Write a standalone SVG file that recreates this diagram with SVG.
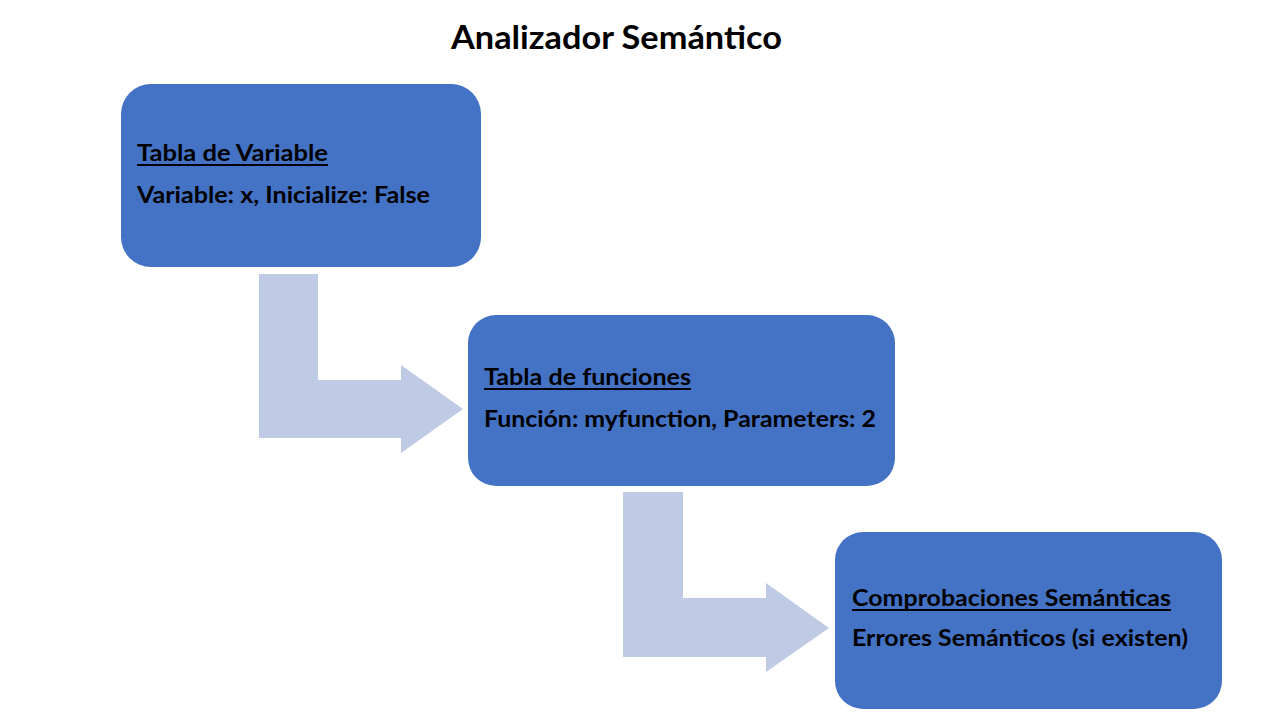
<svg xmlns="http://www.w3.org/2000/svg" width="1280" height="720" viewBox="0 0 1280 720">
<style>
.box{fill:#4472C4;}
.arrow{fill:#BFCAE4;}
.t{font-family:Lato,"Open Sans","Liberation Sans",sans-serif;font-weight:bold;fill:#000;font-size:22px;}
.title{font-family:Lato,"Open Sans","Liberation Sans",sans-serif;font-weight:bold;fill:#000;font-size:32px;}
.ul{fill:#000;}
</style>
<rect width="1280" height="720" fill="#fff"/>
<text class="title" x="451" y="49" textLength="331" lengthAdjust="spacingAndGlyphs">Analizador Semántico</text>
<g id="connectors">
<polygon class="arrow" points="259,274 318,274 318,380 401,380 401,365 463,409 401,453 401,438 259,438"/>
<polygon class="arrow" points="623,492 683,492 683,598 766,598 766,583 829,628 766,672 766,657 623,657"/>
</g>
<g id="node-variables">
<rect class="box" x="121" y="84" width="360" height="183" rx="30" ry="30"/>
<text class="t" x="137" y="161" textLength="191" lengthAdjust="spacingAndGlyphs">Tabla de Variable</text>
<rect class="ul" x="137" y="164" width="191" height="2"/>
<text class="t" x="137" y="203" textLength="293" lengthAdjust="spacingAndGlyphs">Variable: x, Inicialize: False</text>
</g>
<g id="node-funciones">
<rect class="box" x="468" y="315" width="427" height="171" rx="28" ry="28"/>
<text class="t" x="484" y="385" textLength="207" lengthAdjust="spacingAndGlyphs">Tabla de funciones</text>
<rect class="ul" x="484" y="388" width="207" height="2"/>
<text class="t" x="484" y="427" textLength="392" lengthAdjust="spacingAndGlyphs">Función: myfunction, Parameters: 2</text>
</g>
<g id="node-comprobaciones">
<rect class="box" x="835" y="532" width="387" height="177" rx="28" ry="28"/>
<text class="t" x="852" y="606" textLength="319" lengthAdjust="spacingAndGlyphs">Comprobaciones Semánticas</text>
<rect class="ul" x="852" y="609" width="319" height="2"/>
<text class="t" x="852" y="646" textLength="336" lengthAdjust="spacingAndGlyphs">Errores Semánticos (si existen)</text>
</g>
</svg>
